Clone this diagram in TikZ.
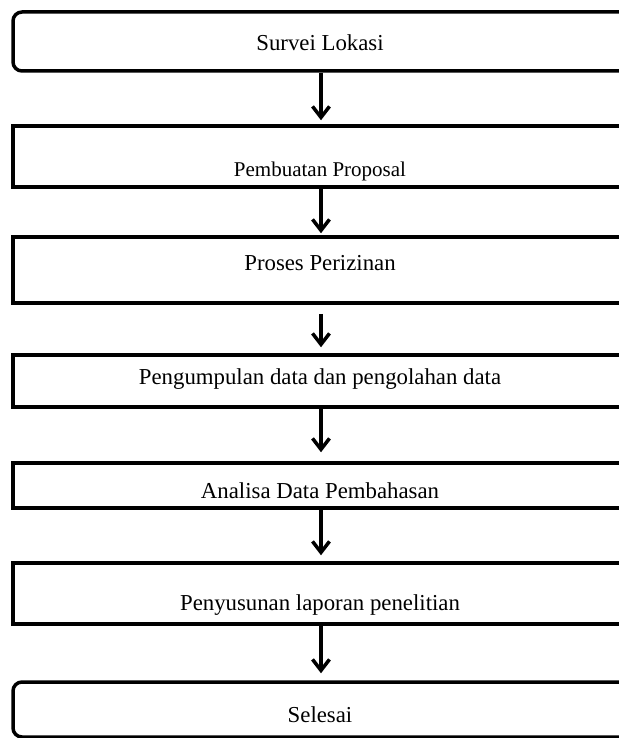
\documentclass[tikz,border=0pt]{standalone}
\usepackage{fontspec}
\setmainfont{Liberation Serif}
\usetikzlibrary{arrows.meta}
\begin{document}
\begin{tikzpicture}[x=0.5pt,y=-0.5pt,
  box/.style={draw, line width=1.75pt, minimum width=308pt, inner sep=0pt},
  rbox/.style={box, rounded corners=4.5pt},
  lbl/.style={font=\fontsize{11.4}{13}\selectfont, inner sep=0pt},
  arr/.style={line width=1.75pt, -{Straight Barb[length=5.5pt,width=8.5pt,line width=1.75pt]}}]
\useasboundingbox (0,0) rectangle (619,738);
\clip (0,0) rectangle (619,738);
\node[rbox, minimum height=29.5pt] (b1) at (321,41.5) {};
\node[box, minimum height=30.5pt] (b2) at (321,156.5) {};
\node[box, minimum height=33pt] (b3) at (321,270) {};
\node[box, minimum height=26pt] (b4) at (321,381) {};
\node[box, minimum height=22.5pt] (b5) at (321,485.5) {};
\node[box, minimum height=30.5pt] (b6) at (321,593.5) {};
\node[rbox, minimum height=27.5pt] (b7) at (321,709.5) {};
\node[lbl] (t1) at (320,43) {Survei Lokasi};
\node[lbl, font=\fontsize{10.5}{12}\selectfont] (t2) at (320,171) {Pembuatan Proposal};
\node[lbl] (t3) at (320,263) {Proses Perizinan};
\node[lbl] (t4) at (320,379) {Pengumpulan data dan pengolahan data};
\node[lbl] (t5) at (320,491) {Analisa Data Pembahasan};
\node[lbl] (t6) at (320,605) {Penyusunan laporan penelitian};
\node[lbl] (t7) at (320,715) {Selesai};
\draw[arr, shorten >=2pt] (b1.south) -- (b2.north);
\draw[arr, shorten >=1pt] (b2.south) -- (b3.north);
\draw[arr, shorten <=4.5pt, shorten >=3pt] (b3.south) -- (b4.north);
\draw[arr, shorten >=4.5pt] (b4.south) -- (b5.north);
\draw[arr, shorten >=3pt] (b5.south) -- (b6.north);
\draw[arr, shorten >=3.5pt] (b6.south) -- (b7.north);
\end{tikzpicture}
\end{document}
